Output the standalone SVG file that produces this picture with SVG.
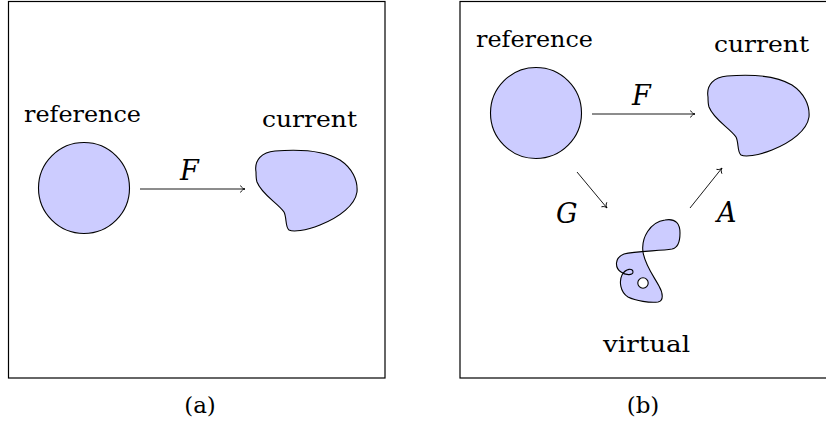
<svg xmlns="http://www.w3.org/2000/svg" width="826" height="424" viewBox="0 0 826 424">
<style>
.frame{fill:none;stroke:#000;stroke-width:1.2}
.shape{fill:#ccccff;stroke:#000;stroke-width:1.1}
.arr{fill:none;stroke:#000;stroke-width:0.9;marker-end:url(#to)}
text{font-family:'DejaVu Serif',serif;font-size:23px;fill:#000}
.m{font-style:italic;font-size:27px}
</style>
<defs>
<marker id="to" viewBox="-6 -5 8 10" markerWidth="8" markerHeight="10" refX="0" refY="0" orient="auto" markerUnits="userSpaceOnUse">
<path d="M -4.5,-3.5 C -3.5,-1.2 -1.5,-0.2 0,0 C -1.5,0.2 -3.5,1.2 -4.5,3.5" fill="none" stroke="#000" stroke-width="0.9"/>
</marker>
<path id="blob" d="M 256,172 C 254,160 262,152 275,151 C 300,149 325,151 340,160 C 352,168 358,180 357,192 C 355,205 340,217 320,225 C 305,231 293,232 289,230 C 285,227 287,218 284,212 C 278,203 262,195 257,182 C 256,179 256,175 256,172 Z"/>
</defs>
<g id="panel-a">
<rect class="frame" x="8.5" y="1.5" width="376.5" height="376.5"/>
<g id="a-reference">
<circle class="shape" cx="84" cy="188" r="45.5"/>
<text x="24" y="121.5" textLength="117" lengthAdjust="spacingAndGlyphs">reference</text>
</g>
<g id="a-current">
<use href="#blob" class="shape"/>
<text x="262" y="126.5" textLength="95" lengthAdjust="spacingAndGlyphs">current</text>
</g>
<g id="a-connectors">
<line class="arr" x1="140" y1="189" x2="245" y2="189"/>
<text class="m" x="180" y="180">F</text>
</g>
<text x="200" y="413" text-anchor="middle">(a)</text>
</g>
<g id="panel-b">
<rect class="frame" x="460" y="1.5" width="376.5" height="376.5"/>
<g id="b-reference">
<circle class="shape" cx="536" cy="113" r="45.5"/>
<text x="476" y="46.5" textLength="117" lengthAdjust="spacingAndGlyphs">reference</text>
</g>
<g id="b-current">
<use href="#blob" class="shape" transform="translate(452,-75)"/>
<text x="714" y="51.5" textLength="95" lengthAdjust="spacingAndGlyphs">current</text>
</g>
<g id="b-virtual">
<path class="shape" d="M 672,249 C 660,251 635,251 624,254 C 614,258 615,268 621,272 C 625,275 633,276 633,272 C 633,268 626,268 622,275 C 619,281 620,292 628,297 C 636,301 650,303 658,302 C 664,301 663,293 659,286 C 653,275 645,265 643,252 C 641,238 650,222 665,220 C 676,218 680,224 680,233 C 680,242 677,248 672,249 Z"/>
<circle cx="643" cy="283" r="5.2" fill="#fff" stroke="#000" stroke-width="1.1"/>
<text x="603" y="352" textLength="87" lengthAdjust="spacingAndGlyphs">virtual</text>
</g>
<g id="b-connectors">
<line class="arr" x1="592" y1="114" x2="695" y2="114"/>
<text class="m" x="632" y="105">F</text>
<line class="arr" x1="577" y1="172" x2="607" y2="208"/>
<text class="m" x="556" y="223">G</text>
<line class="arr" x1="690" y1="208" x2="722" y2="168"/>
<text class="m" x="717" y="222">A</text>
</g>
<text x="643" y="413" text-anchor="middle">(b)</text>
</g>
</svg>
